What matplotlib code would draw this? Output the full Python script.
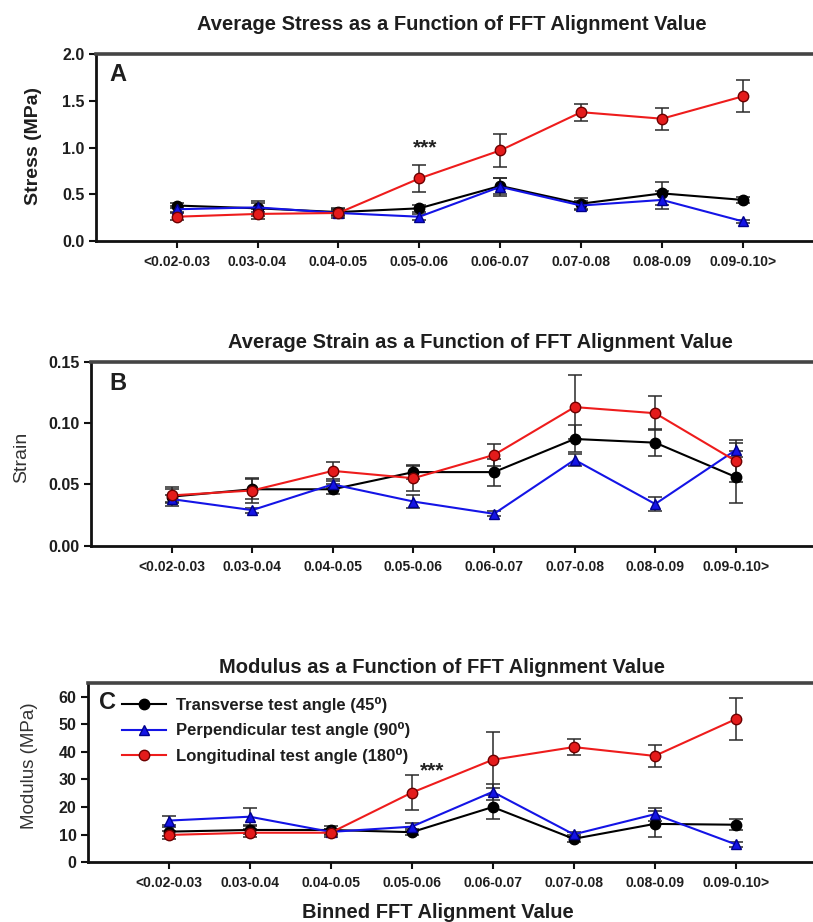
import matplotlib
matplotlib.use("Agg")
import matplotlib.pyplot as plt
import numpy as np

FONT = ['Liberation Sans', 'DejaVu Sans']
plt.rcParams['font.family'] = FONT

categories = ['<0.02-0.03', '0.03-0.04', '0.04-0.05', '0.05-0.06',
              '0.06-0.07', '0.07-0.08', '0.08-0.09', '0.09-0.10>']

stress_trans = [0.38, 0.35, 0.31, 0.35, 0.59, 0.40, 0.51, 0.44]
stress_trans_err = [0.03, 0.08, 0.03, 0.04, 0.09, 0.06, 0.12, 0.03]
stress_perp = [0.34, 0.36, 0.30, 0.26, 0.58, 0.38, 0.44, 0.21]
stress_perp_err = [0.03, 0.05, 0.03, 0.03, 0.10, 0.05, 0.10, 0.02]
stress_long = [0.26, 0.29, 0.30, 0.67, 0.97, 1.38, 1.31, 1.55]
stress_long_err = [0.04, 0.05, 0.05, 0.14, 0.18, 0.09, 0.12, 0.17]

strain_trans = [0.040, 0.046, 0.046, 0.060, 0.060, 0.087, 0.084, 0.056]
strain_trans_err = [0.008, 0.008, 0.004, 0.006, 0.011, 0.011, 0.011, 0.021]
strain_perp = [0.038, 0.029, 0.050, 0.036, 0.026, 0.070, 0.034, 0.078]
strain_perp_err = [0.003, 0.002, 0.003, 0.005, 0.002, 0.005, 0.006, 0.006]
strain_long = [0.041, 0.045, 0.061, 0.055, 0.074, 0.113, 0.108, 0.069]
strain_long_err = [0.005, 0.010, 0.007, 0.010, 0.009, 0.026, 0.014, 0.017]

modulus_trans = [11.1, 11.7, 11.7, 10.9, 20.0, 8.5, 13.9, 13.6]
modulus_trans_err = [1.5, 1.5, 1.5, 1.0, 4.2, 1.2, 4.6, 2.0]
modulus_perp = [15.1, 16.5, 11.0, 12.9, 25.5, 10.1, 17.4, 6.5]
modulus_perp_err = [1.5, 3.1, 1.0, 1.5, 2.8, 1.0, 2.4, 0.8]
modulus_long = [9.9, 10.7, 10.7, 25.2, 37.1, 41.7, 38.5, 51.8]
modulus_long_err = [1.5, 1.5, 1.5, 6.3, 10.2, 3.0, 3.9, 7.6]

series_labels = ['Transverse test angle (45\u2070)',
                 'Perpendicular test angle (90\u2070)',
                 'Longitudinal test angle (180\u2070)']

W, H = 813, 922
fig = plt.figure(figsize=(W / 100, H / 100), dpi=100)
fig.patch.set_facecolor('white')

x = np.arange(1, len(categories) + 1)
TXT = '#1e1e1e'


def make_axes(left_px, top_px, bottom_px):
    l = left_px / W
    b = 1 - bottom_px / H
    h = (bottom_px - top_px) / H
    w = 1 - l
    return fig.add_axes([l, b, w, h])


def draw(ax, trans, terr, perp, perr, lon, lerr):
    styles = [
        (trans, terr, '#000000', 'o', '#000000', '#000000'),
        (perp, perr, '#1414e6', '^', '#1414e6', '#00008b'),
        (lon, lerr, '#ee1c1c', 'o', '#e41b1b', '#6e0000'),
    ]
    handles = []
    for (vals, err, c, m, mfc, mec), lab in zip(styles, series_labels):
        ax.errorbar(x, vals, yerr=err, fmt='none', ecolor='#2a2a2a',
                    elinewidth=1.1, capsize=5, capthick=1.1, zorder=2)
        h, = ax.plot(x, vals, color=c, lw=1.5, marker=m, ms=7.5,
                     mfc=mfc, mec=mec, mew=1.0, zorder=3, label=lab)
        handles.append(h)
    return handles


def style(ax, xmax, ylim, yticks, yfmt):
    ax.set_xlim(0, xmax)
    ax.set_ylim(*ylim)
    ax.set_xticks(x)
    ax.set_xticklabels(categories, fontsize=10, fontweight='bold', color=TXT)
    ax.set_yticks(yticks)
    ax.set_yticklabels([yfmt.format(v) for v in yticks], fontsize=11.5,
                       fontweight='bold', color=TXT)
    ax.tick_params(axis='both', direction='out', length=5, width=1.5, color='#111111')
    ax.tick_params(axis='x', pad=5)
    ax.tick_params(axis='y', pad=3)
    ax.spines['right'].set_visible(False)
    ax.spines['left'].set_linewidth(2.0)
    ax.spines['bottom'].set_linewidth(2.0)
    ax.spines['top'].set_linewidth(2.6)
    ax.spines['top'].set_color('#444444')
    for s in ('left', 'bottom'):
        ax.spines[s].set_color('#111111')


# Panel A
axA = make_axes(95.7, 54.3, 241.0)
draw(axA, stress_trans, stress_trans_err, stress_perp, stress_perp_err,
     stress_long, stress_long_err)
style(axA, (813 - 95.7) / 80.9, (0, 2.0), [0.0, 0.5, 1.0, 1.5, 2.0], '{:.1f}')
axA.set_ylabel('Stress (MPa)', fontsize=14, fontweight='bold', color=TXT)
axA.yaxis.set_label_coords(-0.075, 0.509)
axA.text(0.17, 1.78, 'A', fontsize=17, fontweight='bold', ha='left', va='center', color=TXT)
axA.text(4.07, 1.0, '***', fontsize=15, fontweight='bold', ha='center', va='center',
         color='#222222')
fig.text(452 / W, 1 - 25 / H, 'Average Stress as a Function of FFT Alignment Value',
         fontsize=14.5, fontweight='bold', ha='center', va='center', color=TXT)

# Panel B
axB = make_axes(91.0, 361.7, 545.7)
draw(axB, strain_trans, strain_trans_err, strain_perp, strain_perp_err,
     strain_long, strain_long_err)
style(axB, (813 - 91.0) / 80.6, (0, 0.15), [0.00, 0.05, 0.10, 0.15], '{:.2f}')
axB.set_ylabel('Strain', fontsize=14, color='#333333')
axB.yaxis.set_label_coords(-0.0845, 0.482)
axB.text(0.23, 0.1325, 'B', fontsize=17, fontweight='bold', ha='left', va='center', color=TXT)
fig.text(480 / W, 1 - 342 / H, 'Average Strain as a Function of FFT Alignment Value',
         fontsize=14.5, fontweight='bold', ha='center', va='center', color=TXT)

# Panel C
axC = make_axes(87.7, 682.7, 862.3)
hs = draw(axC, modulus_trans, modulus_trans_err, modulus_perp, modulus_perp_err,
          modulus_long, modulus_long_err)
style(axC, (813 - 87.7) / 81.0, (0, 65), [0, 10, 20, 30, 40, 50, 60], '{:.0f}')
axC.set_ylabel('Modulus (MPa)', fontsize=13.5, color='#333333')
axC.yaxis.set_label_coords(-0.0686, 0.536)
axC.text(0.14, 57.9, 'C', fontsize=17, fontweight='bold', ha='left', va='center', color=TXT)
axC.text(4.25, 33.0, '***', fontsize=15, fontweight='bold', ha='center', va='center',
         color='#222222')
leg = axC.legend(handles=hs, loc='upper left', bbox_to_anchor=(0.035, 0.97),
                 frameon=False, handlelength=2.6, handletextpad=0.6,
                 labelspacing=0.55, borderaxespad=0.15,
                 prop={'weight': 'bold', 'size': 12, 'family': FONT})
for t in leg.get_texts():
    t.set_color(TXT)
fig.text(442 / W, 1 - 667 / H, 'Modulus as a Function of FFT Alignment Value',
         fontsize=14.5, fontweight='bold', ha='center', va='center', color=TXT)
fig.text(438 / W, 1 - 912 / H, 'Binned FFT Alignment Value',
         fontsize=14.5, fontweight='bold', ha='center', va='center', color=TXT)

fig.savefig('out.png', dpi=100, facecolor='white')
